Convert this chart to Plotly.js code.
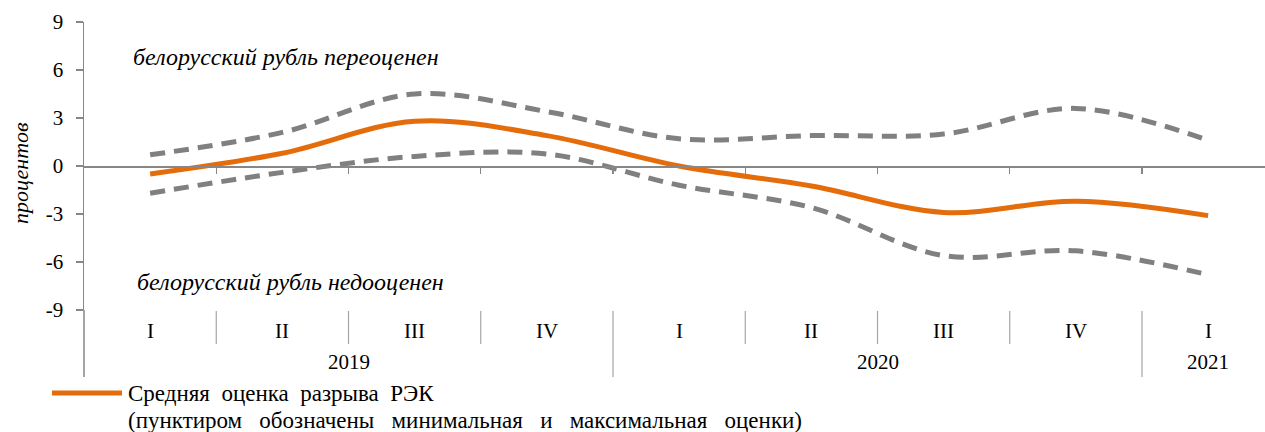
<!DOCTYPE html>
<html>
<head>
<meta charset="utf-8">
<script src="https://cdn.plot.ly/plotly-3.0.1.min.js"></script>
<style>html,body{margin:0;padding:0;background:#fff;}#chart{width:1265px;height:432px;}</style>
</head>
<body>
<div id="chart"></div>
<script>
// ---- data ----
const quarters = ['I', 'II', 'III', 'IV', 'I', 'II', 'III', 'IV', 'I'];
const years = ['2019', '2020', '2021'];
const yearFirstIdx = [0, 4, 8];
const yearLastIdx = [3, 7, 8];
const meanGap = [-0.5, 0.8, 2.8, 1.9, 0.0, -1.25, -2.9, -2.2, -3.1];
const maxGap = [0.7, 2.1, 4.5, 3.4, 1.7, 1.9, 2.0, 3.6, 1.6];
const minGap = [-1.7, -0.4, 0.6, 0.75, -1.2, -2.6, -5.6, -5.3, -6.8];
const yTicks = [-9, -6, -3, 0, 3, 6, 9];
const seriesName = 'Средняя оценка разрыва РЭК';
const seriesNote = '(пунктиром обозначены минимальная и максимальная оценки)';
const noteOver = 'белорусский рубль переоценен';
const noteUnder = 'белорусский рубль недооценен';
const yTitle = 'процентов';

// ---- styling ----
const ORANGE = '#E46C0A';
const GREY = '#808080';
const AXIS = '#878787';
const SERIF = 'Liberation Serif, Times New Roman, serif';
// justified-looking word spacing of the legend text
const wide = (s, n) => s.split(' ').join(' ' + '\u00A0'.repeat(n));

const idx = quarters.map((q, i) => i);

const traces = [
  {x: idx, y: maxGap, type: 'scatter', mode: 'lines', name: 'max',
   line: {color: GREY, width: 5, dash: '15px,9px', shape: 'spline', smoothing: 1}, showlegend: false, hoverinfo: 'skip'},
  {x: idx, y: minGap, type: 'scatter', mode: 'lines', name: 'min',
   line: {color: GREY, width: 5, dash: '15px,9px', shape: 'spline', smoothing: 1}, showlegend: false, hoverinfo: 'skip'},
  {x: idx, y: meanGap, type: 'scatter', mode: 'lines', name: seriesName,
   line: {color: ORANGE, width: 5, shape: 'spline', smoothing: 1}, showlegend: false, hoverinfo: 'skip'}
];

// geometry helpers (paper coordinates below the plot area)
const plotH = 288;
const py = px => -px / plotH; // px below the bottom of the plot area

const shapes = [];
const annotations = [];

// separators between quarters
for (let i = 0; i < quarters.length - 1; i++) {
  const isYearEdge = yearFirstIdx.includes(i + 1);
  shapes.push({type: 'line', xref: 'x', yref: 'paper', x0: i + 0.5, x1: i + 0.5,
    y0: py(1), y1: py(isYearEdge ? 67 : 34), line: {color: '#A6A6A6', width: 1.2}});
}
// y axis extension down through the category area
shapes.push({type: 'line', xref: 'paper', yref: 'paper', x0: 0, x1: 0, y0: 0, y1: py(67),
  line: {color: AXIS, width: 1.5}});
// legend swatch
shapes.push({type: 'line', xref: 'paper', yref: 'paper', x0: (52 - 84) / 1181, x1: (122 - 84) / 1181,
  y0: py(83), y1: py(83), line: {color: ORANGE, width: 5}});

quarters.forEach((q, i) => {
  annotations.push({x: i, y: py(21), xref: 'x', yref: 'paper', text: q, showarrow: false,
    font: {family: SERIF, size: 21, color: '#000'}, xanchor: 'center', yanchor: 'middle'});
});
years.forEach((yr, k) => {
  annotations.push({x: (yearFirstIdx[k] + yearLastIdx[k]) / 2, y: py(52), xref: 'x', yref: 'paper',
    text: yr, showarrow: false, font: {family: SERIF, size: 21, color: '#000'}, xanchor: 'center', yanchor: 'middle'});
});
annotations.push({x: (131 - 84) / 1181, y: 6.8, xref: 'paper', yref: 'y', text: noteOver, showarrow: false,
  xanchor: 'left', yanchor: 'middle', font: {family: SERIF, size: 24, color: '#000', style: 'italic'}});
annotations.push({x: (135 - 84) / 1181, y: -7.25, xref: 'paper', yref: 'y', text: noteUnder, showarrow: false,
  xanchor: 'left', yanchor: 'middle', font: {family: SERIF, size: 24, color: '#000', style: 'italic'}});
annotations.push({x: (20 - 84) / 1181, y: (310 - 173) / plotH, xref: 'paper', yref: 'paper', text: yTitle,
  showarrow: false, textangle: -90, xanchor: 'center', yanchor: 'middle',
  font: {family: SERIF, size: 22, color: '#000', style: 'italic'}});
annotations.push({x: (126 - 84) / 1181, y: py(83), xref: 'paper', yref: 'paper', text: wide(seriesName, 1), showarrow: false,
  xanchor: 'left', yanchor: 'middle', font: {family: SERIF, size: 23, color: '#000'}});
annotations.push({x: (126 - 84) / 1181, y: py(110), xref: 'paper', yref: 'paper', text: wide(seriesNote, 2), showarrow: false,
  xanchor: 'left', yanchor: 'middle', font: {family: SERIF, size: 23, color: '#000'}});

const layout = {
  width: 1265, height: 432,
  margin: {l: 84, r: 0, t: 22, b: 122, pad: 0},
  paper_bgcolor: '#fff', plot_bgcolor: '#fff',
  showlegend: false,
  xaxis: {
    range: [-0.5, 8.43], showgrid: false, zeroline: false,
    anchor: 'free', position: 0.5,
    showline: true, linecolor: AXIS, linewidth: 1.5,
    ticks: 'outside', tickvals: idx.slice(0, -1).map(i => i + 0.5), ticklen: 6, tickcolor: AXIS, tickwidth: 1.3,
    showticklabels: false, fixedrange: true
  },
  yaxis: {
    range: [-9, 9], tickvals: yTicks, ticktext: yTicks.map(String),
    showgrid: false, zeroline: false,
    showline: true, linecolor: AXIS, linewidth: 1.5,
    ticks: 'outside', ticklen: 7, tickcolor: AXIS, tickwidth: 1.3,
    ticklabelstandoff: 8,
    tickfont: {family: SERIF, size: 21, color: '#000'}, fixedrange: true
  },
  shapes: shapes,
  annotations: annotations
};

Plotly.newPlot('chart', traces, layout, {displayModeBar: false, staticPlot: true});
</script>
</body>
</html>
